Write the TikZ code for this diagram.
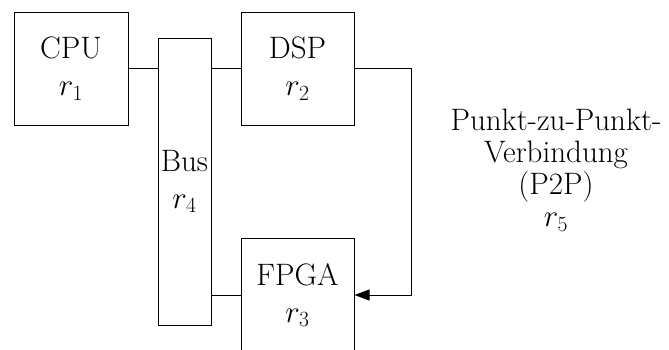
\RequirePackage{fix-cm}
\documentclass[tikz,border=0pt]{standalone}
\usepackage{fontspec}
\usetikzlibrary{arrows.meta}
\begin{document}
\begin{tikzpicture}[x=1pt,y=-1pt,
  box/.style={draw, line width=1pt, rectangle, inner sep=0pt, align=center,
    font=\fontsize{31}{37}\selectfont},
  conn/.style={line width=1pt}]
\useasboundingbox (0,0) rectangle (669,349);
\node[box, minimum width=114pt, minimum height=113pt] (cpu) at (71,68.5) {CPU\\$r_1$};
\node[box, minimum width=53pt, minimum height=287pt] (bus) at (184.5,181.5) {Bus\\$r_4$};
\node[box, minimum width=113pt, minimum height=113pt] (dsp) at (297.5,68.5) {DSP\\$r_2$};
\node[box, minimum width=113pt, minimum height=113pt] (fpga) at (297.5,295) {FPGA\\$r_3$};
\node[align=center, inner sep=0pt, font=\fontsize{31}{32}\selectfont] (p2p) at (556,170)
  {Punkt-zu-Punkt-\\Verbindung\\(P2P)\\$r_5$};
\coordinate (c1) at (411,68.5);
\coordinate (c2) at (411,295);
\draw[conn] (cpu.east) -- (cpu.east -| bus.west);
\draw[conn] (dsp.west -| bus.east) -- (dsp.west);
\draw[conn] (fpga.west -| bus.east) -- (fpga.west);
\draw[conn, -{Triangle[length=15pt,width=11pt]}] (dsp.east) -- (c1) -- (c2) -- (fpga.east);
\end{tikzpicture}
\end{document}
